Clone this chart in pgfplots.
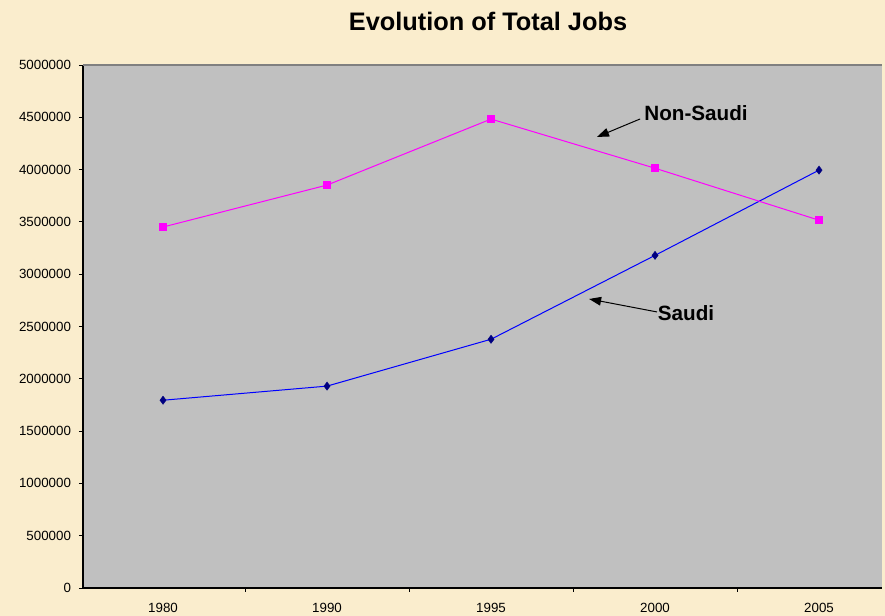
\documentclass[border=0pt]{standalone}
\usepackage{fontspec}
\setmainfont{Liberation Sans}
\usepackage{pgfplots}
\pgfplotsset{compat=1.18}
\usetikzlibrary{arrows.meta}
\definecolor{bg}{RGB}{250,237,205}
\definecolor{plotbg}{RGB}{192,192,192}
\definecolor{navy}{RGB}{0,0,128}
\definecolor{frame}{RGB}{128,128,128}
\definecolor{mag}{RGB}{255,0,255}
\definecolor{blu}{RGB}{0,0,255}
\begin{document}
\begin{tikzpicture}
\path[use as bounding box, fill=bg] (0pt,0pt) rectangle (663.75pt,462pt);
\node[font=\fontsize{19}{22}\selectfont\bfseries] at (366pt,446pt) {Evolution of Total Jobs};
\begin{axis}[
  at={(62.25pt,21pt)}, anchor=south west,
  width=599.25pt, height=392.25pt, scale only axis,
  xmin=-0.488, xmax=4.384,
  ymin=0, ymax=5000000,
  axis background/.style={fill=plotbg},
  axis x line*=bottom, axis y line*=left,
  axis line style={line width=0.9pt, black},
  ytick={0,500000,1000000,1500000,2000000,2500000,3000000,3500000,4000000,4500000,5000000},
  scaled y ticks=false,
  /pgf/number format/fixed,
  /pgf/number format/1000 sep={},
  /pgf/number format/assume math mode=true,
  yticklabel style={xshift=-2.5pt},
  xtick={0,1,2,3,4},
  xticklabels={1980,1990,1995,2000,2005},
  minor xtick={0.5,1.5,2.5,3.5},
  tick align=outside,
  major tick length=3pt,
  minor tick length=3pt,
  x tick style={draw=none},
  minor x tick style={draw=black, line width=0.6pt},
  y tick style={black, line width=0.6pt},
  tick label style={font=\fontsize{10}{12}\selectfont},
  xticklabel style={yshift=-5pt},
  clip=false,
]
\draw[frame, line width=0.8pt] (rel axis cs:0,1) -- (rel axis cs:1,1);
\addplot[color=blu, line width=0.75pt, mark=diamond*, mark size=3.1pt,
  mark options={fill=navy, draw=navy, line width=0.3pt}]
  coordinates {(0,1795000) (1,1930000) (2,2378000) (3,3180000) (4,3995000)};
\addplot[color=mag, line width=0.75pt, mark=square*, mark size=2.5pt,
  mark options={fill=mag, draw=mag}]
  coordinates {(0,3451000) (1,3852000) (2,4483000) (3,4013000) (4,3516000)};
\node[font=\fontsize{15.5}{18}\selectfont\bfseries] at (axis cs:3.25,4541000) {Non-Saudi};
\draw[line width=0.75pt, -{Triangle[length=9pt,width=6.5pt]}] (axis cs:2.909,4484000) -- (axis cs:2.646,4312000);
\node[font=\fontsize{15.5}{18}\selectfont\bfseries] at (axis cs:3.189,2629000) {Saudi};
\draw[line width=0.75pt, -{Triangle[length=9pt,width=6.5pt]}] (axis cs:3.012,2639000) -- (axis cs:2.598,2763000);
\end{axis}
\end{tikzpicture}
\end{document}
